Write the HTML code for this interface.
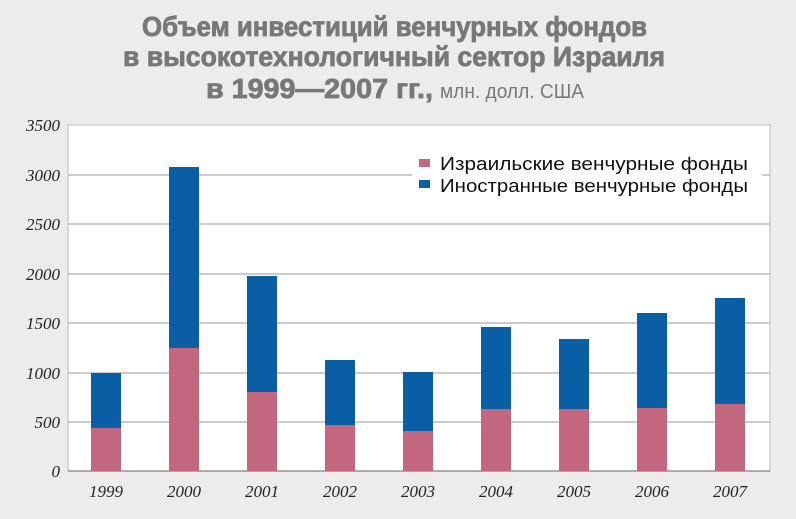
<!DOCTYPE html><html><head><meta charset="utf-8"><style>body{margin:0;background:#ececec}svg{display:block}</style></head><body>
<svg width="796" height="519" xmlns="http://www.w3.org/2000/svg">
<rect width="796" height="519" fill="#ececec"/>
<g font-family="Liberation Sans, DejaVu Sans, sans-serif" font-weight="bold" fill="#787878" font-size="28" stroke="#787878" stroke-width="0.8">
<text x="142" y="36" textLength="505" lengthAdjust="spacingAndGlyphs">Объем инвестиций венчурных фондов</text>
<text x="123" y="66" textLength="542" lengthAdjust="spacingAndGlyphs">в высокотехнологичный сектор Израиля</text>
<text x="206" y="98" textLength="227" lengthAdjust="spacingAndGlyphs">в 1999—2007 гг.,</text>
</g>
<text x="440" y="98" textLength="144" lengthAdjust="spacingAndGlyphs" font-family="Liberation Sans, sans-serif" font-size="20" fill="#787878">млн. долл. США</text>
<rect x="68" y="125" width="702" height="346" fill="#fff" stroke="#bbb"/>
<g stroke="#999" stroke-width="1">
<line x1="68" x2="770" y1="175" y2="175"/><line x1="68" x2="770" y1="224" y2="224"/><line x1="68" x2="770" y1="274" y2="274"/><line x1="68" x2="770" y1="323" y2="323"/><line x1="68" x2="770" y1="373" y2="373"/><line x1="68" x2="770" y1="422" y2="422"/>
</g>
<line x1="68" x2="770" y1="471" y2="471" stroke="#666"/>
<g font-family="Liberation Serif, serif" font-style="italic" font-size="17" fill="#222" text-anchor="end">
<text x="60" y="131">3500</text><text x="60" y="181">3000</text><text x="60" y="230">2500</text><text x="60" y="280">2000</text><text x="60" y="329">1500</text><text x="60" y="379">1000</text><text x="60" y="428">500</text><text x="60" y="477">0</text>
</g>
<g font-family="Liberation Serif, serif" font-style="italic" font-size="17" fill="#222" text-anchor="middle">
<text x="106" y="497">1999</text><text x="184" y="497">2000</text><text x="262" y="497">2001</text><text x="340" y="497">2002</text><text x="418" y="497">2003</text><text x="496" y="497">2004</text><text x="574" y="497">2005</text><text x="652" y="497">2006</text><text x="730" y="497">2007</text>
</g>
<g fill="#0a5ea3">
<rect x="91" y="373" width="30" height="98"/><rect x="169" y="167" width="30" height="304"/><rect x="247" y="276" width="30" height="195"/><rect x="325" y="360" width="30" height="111"/><rect x="403" y="372" width="30" height="99"/><rect x="481" y="327" width="30" height="144"/><rect x="559" y="339" width="30" height="132"/><rect x="637" y="313" width="30" height="158"/><rect x="715" y="298" width="30" height="173"/>
</g>
<g fill="#c2677f">
<rect x="91" y="428" width="30" height="43"/><rect x="169" y="348" width="30" height="123"/><rect x="247" y="392" width="30" height="79"/><rect x="325" y="425" width="30" height="46"/><rect x="403" y="431" width="30" height="40"/><rect x="481" y="409" width="30" height="62"/><rect x="559" y="409" width="30" height="62"/><rect x="637" y="408" width="30" height="63"/><rect x="715" y="404" width="30" height="67"/>
</g>
<rect x="412" y="148" width="350" height="52" fill="#fff"/>
<rect x="419" y="159" width="11" height="8" fill="#c2677f"/>
<rect x="419" y="180" width="11" height="8" fill="#0a5ea3"/>
<g font-family="Liberation Sans, sans-serif" font-size="18" fill="#111">
<text x="440" y="170" textLength="308" lengthAdjust="spacingAndGlyphs">Израильские венчурные фонды</text>
<text x="440" y="192" textLength="308" lengthAdjust="spacingAndGlyphs">Иностранные венчурные фонды</text>
</g>
</svg>
</body></html>
